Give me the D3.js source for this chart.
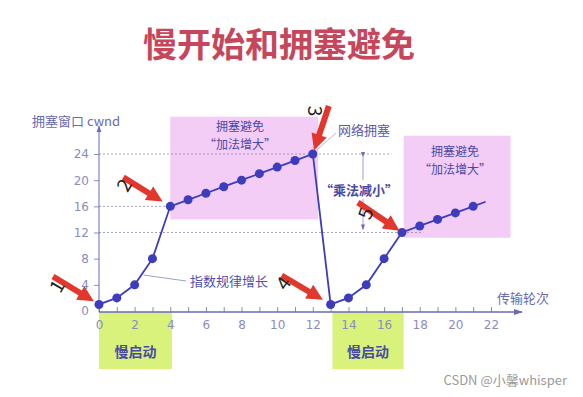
<!DOCTYPE html>
<html>
<head>
<meta charset="utf-8">
<script src="https://cdn.jsdelivr.net/npm/d3@7"></script>
<style>
  body { margin: 0; background: #fff; }
  #graph { width: 583px; height: 397px; }
  text { font-family: "Noto Sans CJK SC", "DejaVu Sans", sans-serif; }
  .axis text { font-family: "DejaVu Sans", sans-serif; font-size: 12px; fill: #8c8cbc; }
  .axis line { stroke: #8c8cbc; }
</style>
</head>
<body>
<div id="graph"></div>
<script>
//データ
var rounds = [0, 1, 2, 3, 4, 5, 6, 7, 8, 9, 10, 11, 12, 13, 14, 15, 16, 17, 18, 19, 20, 21];
var cwnd = [1, 2, 4, 8, 16, 17, 18, 19, 20, 21, 22, 23, 24, 1, 2, 4, 8, 12, 13, 14, 15, 16];
//最後の点の先に伸びる線
var tailRound = 21.7, tailCwnd = 16.7;
var xTicks = d3.range(0, 23, 1);
var yTicks = [0, 4, 8, 12, 16, 20, 24];
//破線 (値, 右端のラウンド)
var guideValues = [24, 16, 12];
var guideEnds = [16.4, 4, 18.2];
//拥塞避免の範囲
var avoidX = [[4, 12.3], [17.1, 23.1]];
var avoidY = [[14, 29.7], [11.2, 26.8]];
//慢启动の範囲
var slowX = [[0, 4.1], [13.1, 17.1]];
//赤い矢印が指す点のインデックスと番号
var arrowIdx = [0, 4, 12, 13, 17];
var arrowNum = ["1", "2", "3", "4", "5"];

var width = 583, height = 397;
var margin = { top: 154, left: 99, bottom: 86, right: 92 };
var chartWidth = width - margin.left - margin.right;
var chartHeight = height - margin.top - margin.bottom;

var svg = d3.select("#graph").append("svg").attr("width", width).attr("height", height);

var xScale = d3.scaleLinear().domain([0, 22]).range([margin.left, margin.left + chartWidth]);
var yScale = d3.scaleLinear().domain([0, 24]).range([margin.top + chartHeight, margin.top]);

var data = rounds.map(function(r, i) { return { x: r, y: cwnd[i] }; });

var blue = "#3c3cbc";
var red = "#e2372c";
var axisY = yScale(0) + 1;

//タイトル
svg.append("text")
  .attr("x", 279).attr("y", 57)
  .attr("text-anchor", "middle")
  .attr("font-size", 34).attr("font-weight", "bold")
  .attr("fill", "#c6475b")
  .text("慢开始和拥塞避免");

//ピンクの領域
svg.selectAll(".avoid").data(avoidX).enter().append("rect")
  .attr("x", function(d) { return xScale(d[0]); })
  .attr("width", function(d) { return xScale(d[1]) - xScale(d[0]); })
  .attr("y", function(d, i) { return yScale(avoidY[i][1]); })
  .attr("height", function(d, i) { return yScale(avoidY[i][0]) - yScale(avoidY[i][1]); })
  .attr("fill", "#f4cdf6");

//緑の領域
svg.selectAll(".slow").data(slowX).enter().append("rect")
  .attr("x", function(d) { return xScale(d[0]); })
  .attr("width", function(d) { return xScale(d[1]) - xScale(d[0]); })
  .attr("y", axisY)
  .attr("height", 57)
  .attr("fill", "#d8f27c");
svg.selectAll(".slowLabel").data(slowX).enter().append("text")
  .attr("x", function(d) { return (xScale(d[0]) + xScale(d[1])) / 2; })
  .attr("y", axisY + 45)
  .attr("text-anchor", "middle")
  .attr("font-size", 14).attr("font-weight", "bold")
  .attr("fill", "#4a4aa6")
  .text("慢启动");

//破線
svg.selectAll(".guide").data(guideValues).enter().append("line")
  .attr("x1", xScale(0)).attr("x2", function(d, i) { return xScale(guideEnds[i]); })
  .attr("y1", function(d) { return yScale(d); }).attr("y2", function(d) { return yScale(d); })
  .attr("stroke", "#8a8aa8").attr("stroke-width", 0.8)
  .attr("stroke-dasharray", "2,2");

//軸
var xAxis = d3.axisBottom(xScale).tickValues(xTicks).tickSizeInner(-5).tickSizeOuter(0).tickPadding(8)
  .tickFormat(function(d) { return d % 2 === 0 ? d : ""; });
svg.append("g").attr("class", "axis x")
  .attr("transform", "translate(0," + axisY + ")")
  .call(xAxis)
  .call(function(g) { g.select(".domain").remove(); });

var yAxis = d3.axisLeft(yScale).tickValues(yTicks).tickSize(5).tickPadding(5);
svg.append("g").attr("class", "axis y")
  .attr("transform", "translate(" + xScale(0) + ",0)")
  .call(yAxis)
  .call(function(g) { g.select(".domain").remove(); })
  .call(function(g) { g.selectAll(".tick").filter(function(d) { return d === 0; }).select("line").remove(); });

svg.append("defs").append("marker")
  .attr("id", "axHead").attr("viewBox", "0 0 10 10")
  .attr("refX", 9).attr("refY", 5)
  .attr("markerWidth", 7).attr("markerHeight", 7)
  .attr("orient", "auto")
  .append("path").attr("d", "M0,1.5L10,5L0,8.5z").attr("fill", "#6a6ab8");

svg.append("line")
  .attr("x1", xScale(0)).attr("x2", 522).attr("y1", axisY).attr("y2", axisY)
  .attr("stroke", "#6a6ab8").attr("stroke-width", 1.3)
  .attr("marker-end", "url(#axHead)");
svg.append("line")
  .attr("x1", xScale(0)).attr("x2", xScale(0)).attr("y1", axisY).attr("y2", 126)
  .attr("stroke", "#6a6ab8").attr("stroke-width", 1)
  .attr("marker-end", "url(#axHead)");

svg.append("text").attr("x", 32).attr("y", 126)
  .attr("font-size", 13).attr("fill", "#6a6ab0")
  .text("拥塞窗口 cwnd");
svg.append("text").attr("x", 497).attr("y", 303)
  .attr("font-size", 13).attr("fill", "#6a6ab0")
  .text("传输轮次");

//注釈の引き出し線
svg.append("line")
  .attr("x1", xScale(2.5)).attr("y1", yScale(5.5)).attr("x2", 186).attr("y2", 281)
  .attr("stroke", "#a0a0c4").attr("stroke-width", 1);
svg.append("text").attr("x", 190).attr("y", 286)
  .attr("font-size", 13).attr("fill", "#5050aa")
  .text("指数规律增长");

svg.append("line")
  .attr("x1", xScale(12) + 4).attr("y1", yScale(24) - 4).attr("x2", 336).attr("y2", 133)
  .attr("stroke", "#a8a8b8").attr("stroke-width", 0.8);
svg.append("text").attr("x", 338).attr("y", 135)
  .attr("font-size", 13).attr("fill", "#5a5aae")
  .text("网络拥塞");

//乗法減小の矢印
svg.append("line")
  .attr("x1", 363).attr("x2", 363)
  .attr("y1", yScale(24) + 3).attr("y2", yScale(12) - 3)
  .attr("stroke", "#8a8ab8").attr("stroke-width", 0.8)
  .attr("marker-start", "url(#axHead)").attr("marker-end", "url(#axHead)");
svg.append("rect").attr("x", 318).attr("y", 180).attr("width", 82).attr("height", 19).attr("fill", "#fff");
svg.append("text").attr("x", 359).attr("y", 195)
  .attr("text-anchor", "middle")
  .attr("font-size", 13).attr("font-weight", "bold").attr("fill", "#4a4aa6")
  .text("“乘法减小”");

//ピンク領域のラベル
var boxLabels = [[240, 131], [455, 156]];
boxLabels.forEach(function(p) {
  svg.append("text").attr("x", p[0]).attr("y", p[1])
    .attr("text-anchor", "middle").attr("font-size", 12).attr("fill", "#4a4aa6")
    .text("拥塞避免");
  svg.append("text").attr("x", p[0]).attr("y", p[1] + 18)
    .attr("text-anchor", "middle").attr("font-size", 12).attr("fill", "#4a4aa6")
    .text("“加法增大”");
});

//折れ線
var line = d3.line().x(function(d) { return xScale(d.x); }).y(function(d) { return yScale(d.y); });
svg.append("path")
  .datum(data.concat([{ x: tailRound, y: tailCwnd }]))
  .attr("d", line)
  .attr("fill", "none").attr("stroke", blue).attr("stroke-width", 1.8);

svg.selectAll(".dot").data(data).enter().append("circle")
  .attr("cx", function(d) { return xScale(d.x); })
  .attr("cy", function(d) { return yScale(d.y); })
  .attr("r", 4.5)
  .attr("fill", blue);

//赤い矢印 (尾の方向, 長さ, 番号の位置と回転)
var arrowDir = [[-46, -28], [-47, -29], [16, -48], [-49, -29], [-44, -30]];
var arrowGap = [6, 9, 4, 9, 3];
var numOffset = [[-42, -18], [-46, -21], [2, -43], [-47, -21], [-36, -19]];
var numRotate = [-60, -60, 90, -55, -70];

function arrowPath(tail, tip) {
  var dx = tip[0] - tail[0], dy = tip[1] - tail[1];
  var len = Math.sqrt(dx * dx + dy * dy);
  var ux = dx / len, uy = dy / len, nx = -uy, ny = ux;
  var sw = 3, hw = 8, hl = 16;
  var bx = tip[0] - ux * hl, by = tip[1] - uy * hl;
  var pts = [
    [tail[0] + nx * sw, tail[1] + ny * sw],
    [bx + nx * sw, by + ny * sw],
    [bx + nx * hw, by + ny * hw],
    tip,
    [bx - nx * hw, by - ny * hw],
    [bx - nx * sw, by - ny * sw],
    [tail[0] - nx * sw, tail[1] - ny * sw]
  ];
  return "M" + pts.join("L") + "Z";
}

arrowIdx.forEach(function(idx, i) {
  var px = xScale(rounds[idx]), py = yScale(cwnd[idx]);
  var d = arrowDir[i];
  var l = Math.sqrt(d[0] * d[0] + d[1] * d[1]);
  var tip = [px + d[0] / l * arrowGap[i], py + d[1] / l * arrowGap[i]];
  var tail = [px + d[0], py + d[1]];
  svg.append("path").attr("d", arrowPath(tail, tip)).attr("fill", red);
  var nx = px + numOffset[i][0], ny = py + numOffset[i][1];
  svg.append("text")
    .attr("transform", "translate(" + [nx, ny] + ") rotate(" + numRotate[i] + ")")
    .attr("text-anchor", "middle").attr("dy", "0.35em")
    .attr("font-family", "Liberation Sans").attr("font-size", 19)
    .attr("fill", "#222")
    .text(arrowNum[i]);
});

//ウォーターマーク
svg.append("text").attr("x", 567).attr("y", 385)
  .attr("text-anchor", "end").attr("font-size", 13).attr("fill", "#9a9a9a")
  .text("CSDN @小馨whisper");
</script>
</body>
</html>
